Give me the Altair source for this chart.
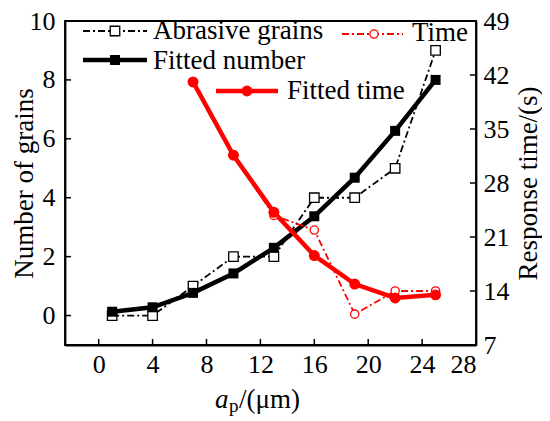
import altair as alt
import pandas as pd

# ---- data ----
x_vals = [1, 4, 7, 10, 13, 16, 19, 22, 25]
grains = [0, 0, 1, 2, 2, 4, 4, 5, 9]
fitted_number = [0.13, 0.28, 0.77, 1.43, 2.3, 3.37, 4.68, 6.27, 8.0]
time_x = [7, 10, 13, 16, 19, 22, 25]
time_vals = [41.1, 31.6, 23.8, 21.9, 11.0, 14.0, 14.0]
fitted_time = [41.1, 31.6, 24.2, 18.6, 14.9, 13.1, 13.5]

x_ticks = [0, 4, 8, 12, 16, 20, 24, 28]
left_ticks = [0, 2, 4, 6, 8, 10]
right_ticks = [7, 14, 21, 28, 35, 42, 49]

W, H = 411, 324
FONT = "Liberation Serif"
RED = "#ff0000"

df_g = pd.DataFrame({"x": x_vals, "grains": grains, "fit": fitted_number})
df_t = pd.DataFrame({"x": time_x, "time": time_vals, "fit": fitted_time})

xscale = alt.Scale(domain=[-2.5, 28], nice=False, zero=False)
lscale = alt.Scale(domain=[-1, 10], nice=False, zero=False)
rscale = alt.Scale(domain=[7, 49], nice=False, zero=False)

x_axis = alt.Axis(values=x_ticks, title="", labelPadding=6, ticks=False,
                  labelFontSize=26)
yl_axis = alt.Axis(values=left_ticks, title="Number of grains", ticks=False,
                   labelPadding=10, labelFontSize=26, titleFontSize=27,
                   titleAngle=270, titleX=-33, titleY=H / 2,
                   titleBaseline="alphabetic")
yr_axis = alt.Axis(values=right_ticks, title="Response time/(s)", orient="right",
                   ticks=False, labelPadding=7, labelFontSize=26, titleFontSize=27,
                   titleAngle=270, titleX=60, titleY=H / 2,
                   titleBaseline="alphabetic")

def XQ(f):
    return alt.X(f, scale=xscale, axis=x_axis)
def YL(f):
    return alt.Y(f, scale=lscale, axis=yl_axis)
def YR(f):
    return alt.Y(f, scale=rscale, axis=yr_axis)

dashdot = [7, 3, 2, 3]

# left group (number of grains)
g_line = alt.Chart(df_g).mark_line(color="black", strokeWidth=1.8, strokeDash=dashdot).encode(
    x=XQ("x:Q"), y=YL("grains:Q"))
g_pts = alt.Chart(df_g).mark_point(shape="square", size=90, filled=True, fill="white",
                                   stroke="black", strokeWidth=1.3, opacity=1).encode(
    x=XQ("x:Q"), y=YL("grains:Q"))
f_line = alt.Chart(df_g).mark_line(color="black", strokeWidth=4.5).encode(
    x=XQ("x:Q"), y=YL("fit:Q"))
f_pts = alt.Chart(df_g).mark_point(shape="square", size=100, filled=True, color="black",
                                   opacity=1).encode(
    x=XQ("x:Q"), y=YL("fit:Q"))

df_xt = pd.DataFrame({"x": x_ticks[:-1]})
xt = alt.Chart(df_xt).mark_rule(color="black", strokeWidth=1.5).encode(
    x=XQ("x:Q"), y=alt.value(H), y2=alt.value(H - 6))
df_lt = pd.DataFrame({"grains": left_ticks})
lt = alt.Chart(df_lt).mark_rule(color="black", strokeWidth=1.5).encode(
    y=YL("grains:Q"), x=alt.value(0), x2=alt.value(6))

# legend pieces
one = pd.DataFrame({"label": ["Abrasive grains"]})
def leg_line(y, x1, x2, color, width, dash=None):
    kw = dict(color=color, strokeWidth=width)
    if dash:
        kw["strokeDash"] = dash
    return alt.Chart(one).mark_rule(**kw).encode(
        x=alt.value(x1), x2=alt.value(x2), y=alt.value(y))
def leg_sym(x, y, **kw):
    return alt.Chart(one).mark_point(opacity=1, **kw).encode(x=alt.value(x), y=alt.value(y))
def leg_text(x, y, label):
    return alt.Chart(pd.DataFrame({"label": [label]})).mark_text(
        font=FONT, fontSize=27, align="left", baseline="alphabetic", color="black").encode(
        x=alt.value(x), y=alt.value(y), text="label:N")

legend = [
    leg_line(10, 18, 82, "black", 1.8, dashdot),
    leg_sym(50, 10, shape="square", size=90, filled=True, fill="white", stroke="black", strokeWidth=1.3),
    leg_text(88, 18, "Abrasive grains"),
    leg_line(39, 18, 82, "black", 4.5),
    leg_sym(50, 39, shape="square", size=100, filled=True, color="black"),
    leg_text(88, 48, "Fitted number"),
    leg_line(13, 277, 338, RED, 1.8, dashdot),
    leg_sym(309, 13, shape="circle", size=68, filled=True, fill="white", stroke=RED, strokeWidth=1.3),
    leg_text(347, 20, "Time"),
    leg_line(70, 151, 213, RED, 4.5),
    leg_sym(182, 70, shape="circle", size=120, filled=True, color=RED),
    leg_text(222, 78, "Fitted time"),
]

# x-axis title with italic a and subscript p
def txt(x, y, s, size, style="normal"):
    return alt.Chart(pd.DataFrame({"label": [s]})).mark_text(
        font=FONT, fontSize=size, fontStyle=style, align="left", baseline="alphabetic",
        color="black").encode(x=alt.value(x), y=alt.value(y), text="label:N")

xtitle = [txt(150, 387, "a", 27, "italic"), txt(164, 391, "p", 19),
          txt(174, 387, "/(\u03bcm)", 27)]

left = alt.layer(g_line, f_line, g_pts, f_pts, xt, lt, *legend, *xtitle)

# right group (response time)
t_line = alt.Chart(df_t).mark_line(color=RED, strokeWidth=1.8, strokeDash=dashdot).encode(
    x=XQ("x:Q"), y=YR("time:Q"))
ft_line = alt.Chart(df_t).mark_line(color=RED, strokeWidth=4.5).encode(
    x=XQ("x:Q"), y=YR("fit:Q"))
t_pts = alt.Chart(df_t).mark_point(shape="circle", size=68, filled=True, fill="white",
                                   stroke=RED, strokeWidth=1.3, opacity=1).encode(
    x=XQ("x:Q"), y=YR("time:Q"))
ft_pts = alt.Chart(df_t).mark_point(shape="circle", size=120, filled=True, color=RED,
                                    opacity=1).encode(
    x=XQ("x:Q"), y=YR("fit:Q"))
df_rt = pd.DataFrame({"time": right_ticks})
rt = alt.Chart(df_rt).mark_rule(color="black", strokeWidth=1.5).encode(
    y=YR("time:Q"), x=alt.value(W), x2=alt.value(W - 6))

right = alt.layer(t_line, ft_line, t_pts, ft_pts, rt)

chart = alt.layer(left, right).resolve_scale(y="independent").properties(
    width=W, height=H,
    autosize=alt.AutoSizeParams(type="none"),
    padding={"left": 57, "top": 13, "right": 66, "bottom": 72},
).configure_view(stroke="black", strokeWidth=1.8).configure_axis(
    labelFont=FONT, titleFont=FONT, labelColor="black", titleColor="black",
    titleFontWeight="normal", domainColor="black", domainWidth=1.8, grid=False,
    labelOverlap=False,
)

chart.save("out.html", embed_options={"renderer": "svg", "actions": False})
